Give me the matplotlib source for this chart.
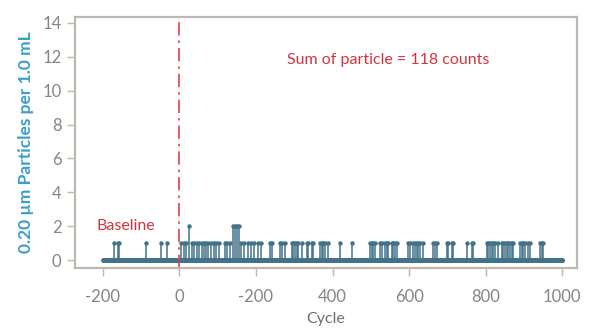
import numpy as np
import matplotlib
matplotlib.use("Agg")
import matplotlib.pyplot as plt

# particle spike positions (cycle) and counts
spike_cycles = [
    -171, -161, -158, -88, -48, -33,
    4, 11, 18, 25, 32, 38, 45, 52, 58, 64, 70, 76, 83, 90, 97, 103,
    118, 124, 131, 140, 145, 150, 156, 162, 170, 178, 186, 195, 205, 213,
    237, 242, 263, 268, 276, 294, 297, 302, 307, 310, 320, 333, 336, 346,
    349, 367, 372, 375, 380, 388, 420, 451,
    498, 503, 506, 511, 524, 529, 537, 542, 545, 555, 558, 563, 569, 597,
    603, 610, 616, 621, 623, 629, 637, 663, 668, 673,
    699, 702, 712, 715, 751, 765, 767,
    804, 806, 812, 817, 819, 825, 833, 843, 846, 851, 856, 859, 864, 869,
    872, 890, 895, 898, 903, 911, 916, 942, 948, 950,
]
double_cycles = [25, 140, 145, 150, 156]

cycle_start, cycle_end = -200, 1000
x_ticks = [-200, 0, 200, 400, 600, 800, 1000]
x_tick_labels = ["-200", "0", "-200", "400", "600", "800", "1000"]
y_ticks = [0, 2, 4, 6, 8, 10, 12, 14]

cycles = np.arange(cycle_start, cycle_end + 1)
counts = np.zeros_like(cycles, dtype=float)
for c in spike_cycles:
    counts[c - cycle_start] = 2 if c in double_cycles else 1
total = int(counts.sum())

plt.rcParams["font.family"] = ["Lato", "DejaVu Sans"]

STEM = "#41728a"
RED = "#d2343d"
FRAME = "#bfb7b0"
TICK_TXT = "#858585"

fig = plt.figure(figsize=(5.89, 3.31), dpi=100)
ax = fig.add_axes([0.127, 0.19, 0.853, 0.759])

ml, sl, bl = ax.stem(cycles, counts, basefmt=" ")
plt.setp(sl, color=STEM, linewidth=1.1)
plt.setp(ml, color=STEM, markersize=2.2)

ax.axvline(0, color="#d8434c", linestyle=(0, (8, 3, 1.5, 3)), linewidth=1.2)

ax.text(545, 11.8, f"Sum of particle = {total} counts", color=RED,
        fontsize=11.5, ha="center", va="center")
ax.text(-140, 2.0, "Baseline", color=RED, fontsize=11.5,
        ha="center", va="center")

ax.set_xlim(-273, 1039)
ax.set_ylim(-0.47, 14.35)
ax.set_xticks(x_ticks)
ax.set_xticklabels(x_tick_labels)
ax.set_yticks(y_ticks)

for sp in ax.spines.values():
    sp.set_color(FRAME)
    sp.set_linewidth(1.6)
ax.tick_params(direction="out", length=6, width=1, color=FRAME,
               labelcolor=TICK_TXT, labelsize=12)
ax.tick_params(axis="x", pad=9)

ax.set_xlabel("Cycle", color="#6f6f6f", fontsize=11.5, labelpad=5)
ax.set_ylabel("0.20 µm Particles per 1.0 mL", color="#3a9fc9",
              fontsize=12.5, fontweight="bold", labelpad=6)

fig.savefig("out.png", dpi=100)
